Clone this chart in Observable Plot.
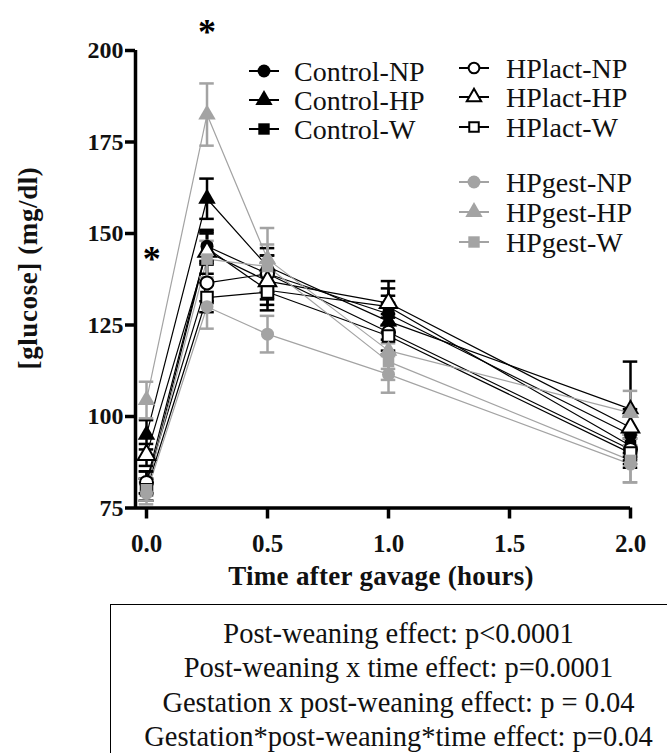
<!DOCTYPE html>
<html>
<head>
<meta charset="utf-8">
<script src="https://cdn.jsdelivr.net/npm/d3@7"></script>
<script src="https://cdn.jsdelivr.net/npm/@observablehq/plot@0.6"></script>
<style>
  html, body { margin: 0; padding: 0; background: #fff; }
  #wrap { position: relative; width: 667px; height: 753px; overflow: hidden; font-family: "Liberation Serif", serif; }
  #chart { position: absolute; left: 0; top: 0; }
  #legend { position: absolute; left: 0; top: 0; }
  #legend text { font-family: "Liberation Serif", serif; }
  #caption { position: absolute; left: 110px; top: 604px; width: 577px; height: 200px;
    border: 1.5px solid #000; box-sizing: border-box; text-align: center;
    font-family: "Liberation Serif", serif; font-size: 28.5px; line-height: 34.3px; padding-top: 12px; color: #111; }
</style>
</head>
<body>
<div id="wrap">
  <div id="chart"></div>
  <svg id="legend" width="667" height="300"></svg>
  <div id="caption"></div>
</div>
<script>
// ---- data ----
const times = [0, 0.25, 0.5, 1, 2];
const seriesNames = ["Control-NP", "Control-HP", "Control-W", "HPlact-NP", "HPlact-HP", "HPlact-W", "HPgest-NP", "HPgest-HP", "HPgest-W"];
const controlNP = [82, 146.5, 139, 128, 95];
const controlHP = [95, 159.5, 141, 126, 102];
const controlW  = [80, 146, 134.5, 130, 92];
const hplactNP  = [82, 136.5, 139, 123, 91];
const hplactHP  = [89.5, 145, 137, 131, 97];
const hplactW   = [80, 132.5, 134, 122, 90];
const hpgestNP  = [79, 130, 122.5, 111.5, 87];
const hpgestHP  = [104.5, 182.5, 143, 118, 101];
const hpgestW   = [80, 143, 141, 115, 88];
const semControlNP = [3, 4, 5, 5, 5];
const semControlHP = [4, 5.5, 5, 5, 13];
const semControlW  = [3, 4, 4, 5, 4];
const semHplactNP  = [3, 5, 5, 5, 4];
const semHplactHP  = [3, 6, 5, 6, 5];
const semHplactW   = [3, 4, 5, 5, 4];
const semHpgestNP  = [3, 6, 5, 5, 5];
const semHpgestHP  = [5, 8.5, 8.5, 5, 6];
const semHpgestW   = [3, 5, 6, 5, 6];
const xTicks = [0, 0.5, 1, 1.5, 2];
const yTicks = [75, 100, 125, 150, 175, 200];
const starX = [0.25, 0.022];
const starY = [207.5, 145.5];
const captionLines = [
  "Post-weaning effect: p<0.0001",
  "Post-weaning x time effect: p=0.0001",
  "Gestation x post-weaning effect: p = 0.04",
  "Gestation*post-weaning*time effect: p=0.04"
];

// ---- styles (kept separate from data) ----
const meansAll = [controlNP, controlHP, controlW, hplactNP, hplactHP, hplactW, hpgestNP, hpgestHP, hpgestW];
const semsAll = [semControlNP, semControlHP, semControlW, semHplactNP, semHplactHP, semHplactW, semHpgestNP, semHpgestHP, semHpgestW];
const GREY = "#a3a3a3";
const styleOf = {
  "Control-NP": {sym: "circle", color: "#000", open: false},
  "Control-HP": {sym: "triangle", color: "#000", open: false},
  "Control-W":  {sym: "square", color: "#000", open: false},
  "HPlact-NP":  {sym: "circle", color: "#000", open: true},
  "HPlact-HP":  {sym: "triangle", color: "#000", open: true},
  "HPlact-W":   {sym: "square", color: "#000", open: true},
  "HPgest-NP":  {sym: "circle", color: GREY, open: false},
  "HPgest-HP":  {sym: "triangle", color: GREY, open: false},
  "HPgest-W":   {sym: "square", color: GREY, open: false}
};

const rows = [];
seriesNames.forEach((s, i) => times.forEach((t, j) => rows.push({series: s, t, mean: meansAll[i][j], sem: semsAll[i][j]})));

const xDomain = [-0.0455, 2];
const capHalf = 0.03;
const FONT = "Liberation Serif";

const marks = [];
// lines
for (const grp of [["#000", s => styleOf[s].color === "#000"], [GREY, s => styleOf[s].color === GREY]]) {
  const data = rows.filter(d => grp[1](d.series));
  marks.push(Plot.line(data, {x: "t", y: "mean", z: "series", stroke: grp[0], strokeWidth: 1.2}));
}
// error bars per series
for (const s of seriesNames) {
  const data = rows.filter(d => d.series === s);
  const c = styleOf[s].color;
  marks.push(Plot.ruleX(data, {x: "t", y1: d => d.mean - d.sem, y2: d => d.mean + d.sem, stroke: c, strokeWidth: 2.5}));
  marks.push(Plot.ruleY(data, {x1: d => d.t - capHalf, x2: d => d.t + capHalf, y: d => d.mean + d.sem, stroke: c, strokeWidth: 2.5}));
  marks.push(Plot.ruleY(data, {x1: d => d.t - capHalf, x2: d => d.t + capHalf, y: d => d.mean - d.sem, stroke: c, strokeWidth: 2.5}));
}
// markers
for (const s of seriesNames) {
  const data = rows.filter(d => d.series === s);
  const st = styleOf[s];
  marks.push(Plot.dot(data, {x: "t", y: "mean", symbol: st.sym, r: 6.5,
    fill: st.open ? "#fff" : st.color, stroke: st.open ? "#000" : "none", strokeWidth: 2}));
}
// axes lines
marks.push(Plot.ruleY([75], {stroke: "#000", strokeWidth: 3.5}));
marks.push(Plot.ruleX([xDomain[0]], {stroke: "#000", strokeWidth: 3.5}));
marks.push(Plot.axisX(xTicks, {tickSize: 11, tickPadding: 15, strokeWidth: 3.5, tickFormat: d3.format(".1f"),
  fontSize: 25, fontWeight: "bold", fill: "#111", label: null}));
marks.push(Plot.axisY(yTicks, {tickSize: 10, tickPadding: 2, strokeWidth: 3.5,
  fontSize: 24, fontWeight: "bold", fill: "#111", label: null}));
// stars
marks.push(Plot.text(starX.map((x, i) => ({x, y: starY[i]})), {x: "x", y: "y", text: () => "*", fontSize: 36, fontWeight: "bold", fill: "#000", lineAnchor: "middle", dy: 9}));

const plot = Plot.plot({
  width: 667, height: 600,
  marginTop: 50, marginBottom: 92.5, marginLeft: 135, marginRight: 37,
  style: {fontFamily: FONT, background: "white", overflow: "visible"},
  x: {domain: xDomain},
  y: {domain: [75, 200]},
  marks
});
document.getElementById("chart").appendChild(plot);

// axis titles as SVG text added into plot svg
const svg = d3.select(plot.tagName === "svg" ? plot : plot.querySelector("svg"));
svg.append("text").attr("x", 381).attr("y", 585).attr("text-anchor", "middle")
  .style("font-family", FONT).style("font-size", "27px").style("font-weight", "bold").attr("fill", "#111")
  .style("letter-spacing", "0.3px")
  .text("Time after gavage (hours)");
svg.append("text").attr("transform", "translate(37,268) rotate(-90)").attr("text-anchor", "middle")
  .style("font-family", FONT).style("font-size", "27px").style("font-weight", "bold").attr("fill", "#111")
  .style("letter-spacing", "0.6px")
  .text("[glucose] (mg/dl)");

// ---- legend ----
const lg = d3.select("#legend");
const legendPos = [
  [264, 71], [264, 100], [264, 129],
  [474, 68], [474, 97], [474, 127],
  [474, 182], [474, 212], [474, 242]
];
const symMap = {circle: d3.symbolCircle, triangle: d3.symbolTriangle, square: d3.symbolSquare};
seriesNames.forEach((s, i) => {
  const [cx, cy] = legendPos[i];
  const st = styleOf[s];
  const g = lg.append("g");
  g.append("line").attr("x1", cx - 15).attr("x2", cx + 15).attr("y1", cy).attr("y2", cy)
    .attr("stroke", st.color).attr("stroke-width", 2);
  g.append("path").attr("transform", `translate(${cx},${cy})`)
    .attr("d", d3.symbol(symMap[st.sym], st.open ? 90 : 130)())
    .attr("fill", st.open ? "#fff" : st.color).attr("stroke", st.open ? "#000" : "none").attr("stroke-width", 2);
  g.append("text").attr("x", i < 3 ? cx + 30 : cx + 32).attr("y", cy).attr("dy", "0.35em")
    .style("font-family", FONT).style("font-size", "28px").attr("fill", "#111").text(s);
});

// ---- caption ----
const cap = document.getElementById("caption");
captionLines.forEach(t => { const d = document.createElement("div"); d.textContent = t; cap.appendChild(d); });
</script>
</body>
</html>
